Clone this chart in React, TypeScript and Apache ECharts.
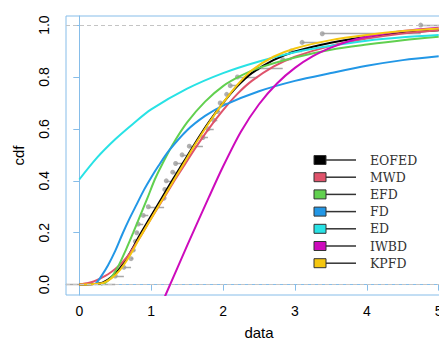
import React, { useEffect, useRef } from "react";
import * as echarts from "echarts";

// ---- data ----
const xTicks = [0, 1, 2, 3, 4, 5];
const yTicks = [0, 0.2, 0.4, 0.6, 0.8, 1.0];

const seriesNames = ["EOFED", "MWD", "EFD", "FD", "ED", "IWBD", "KPFD"];
const seriesColors = ["#000000", "#DF536B", "#61D04F", "#2297E6", "#28E2E5", "#CD0BBC", "#F5C710"];

// empirical CDF jump points (n = 30)
const ecdfX = [0.5, 0.62, 0.72, 0.75, 0.78, 0.8, 0.82, 0.89, 0.96, 1.18, 1.19, 1.21, 1.3, 1.34, 1.43,
  1.53, 1.72, 1.79, 1.87, 1.92, 1.96, 2.05, 2.1, 2.2, 2.48, 2.83, 2.95, 3.1, 3.38, 4.75];

const EOFED = [[0, 0], [0.2, 0.002], [0.33, 0.008], [0.45, 0.03], [0.57, 0.065], [0.7, 0.12], [0.85, 0.195],
  [1.0, 0.265], [1.15, 0.335], [1.3, 0.405], [1.45, 0.472], [1.6, 0.54], [1.8, 0.625], [2.0, 0.7],
  [2.2, 0.765], [2.4, 0.815], [2.7, 0.865], [3.0, 0.898], [3.5, 0.932], [4.0, 0.955], [4.5, 0.97], [5.0, 0.98]];
const MWD = [[0, 0], [0.1, 0.005], [0.2, 0.012], [0.3, 0.025], [0.4, 0.04], [0.5, 0.06], [0.6, 0.086],
  [0.7, 0.12], [0.85, 0.185], [1.0, 0.255], [1.15, 0.322], [1.3, 0.39], [1.45, 0.455], [1.6, 0.52],
  [1.8, 0.6], [2.0, 0.672], [2.2, 0.735], [2.4, 0.785], [2.7, 0.84], [3.0, 0.878], [3.5, 0.92], [4.0, 0.948],
  [4.5, 0.968], [5.0, 0.98]];
const EFD = [[0.3, 0], [0.35, 0.005], [0.45, 0.03], [0.55, 0.075], [0.65, 0.135], [0.75, 0.2], [0.85, 0.268],
  [0.95, 0.335], [1.05, 0.405], [1.15, 0.462], [1.3, 0.54], [1.5, 0.625], [1.75, 0.705], [2.0, 0.765],
  [2.25, 0.805], [2.5, 0.835], [3.0, 0.875], [3.5, 0.905], [4.0, 0.925], [4.5, 0.942], [5.0, 0.955]];
const FD = [[0.22, 0], [0.3, 0.03], [0.4, 0.075], [0.5, 0.13], [0.6, 0.195], [0.7, 0.255], [0.8, 0.31],
  [0.9, 0.365], [1.0, 0.413], [1.1, 0.457], [1.25, 0.517], [1.5, 0.595], [1.75, 0.65], [2.0, 0.69],
  [2.5, 0.745], [3.0, 0.785], [3.5, 0.815], [4.0, 0.843], [4.5, 0.865], [5.0, 0.88]];
const ED = [[0, 0.405], [0.25, 0.49], [0.5, 0.56], [0.75, 0.62], [1.0, 0.675], [1.5, 0.755], [2.0, 0.815],
  [2.5, 0.86], [3.0, 0.895], [3.5, 0.92], [4.0, 0.94], [4.5, 0.953], [5.0, 0.962]];
const IWBD = [[1.15, -0.07], [1.2, -0.04], [1.5, 0.15], [1.8, 0.335], [2.0, 0.455], [2.25, 0.59],
  [2.5, 0.695], [2.75, 0.775], [3.0, 0.835], [3.25, 0.88], [3.5, 0.913], [3.75, 0.938], [4.0, 0.955],
  [4.5, 0.977], [5.0, 0.99]];
const KPFD = [[0, 0], [0.2, 0.002], [0.33, 0.006], [0.45, 0.025], [0.57, 0.058], [0.7, 0.11], [0.85, 0.185],
  [1.0, 0.255], [1.15, 0.325], [1.3, 0.395], [1.45, 0.465], [1.6, 0.535], [1.8, 0.622], [2.0, 0.7],
  [2.2, 0.77], [2.4, 0.826], [2.7, 0.878], [3.0, 0.91], [3.5, 0.942], [4.0, 0.962], [4.5, 0.977], [5.0, 0.987]];

const curves = [EOFED, MWD, EFD, FD, ED, IWBD, KPFD];

const X_MIN = -0.185;
const X_MAX = 5.185;
const Y_MIN = -0.04;
const Y_MAX = 1.035;

export default function App() {
  const ref = useRef<HTMLDivElement>(null);
  useEffect(() => {
    if (!ref.current) return;
    const chart = echarts.init(ref.current, null, { renderer: "svg" });
    const n = ecdfX.length;
    const segs: any[] = [];
    for (let i = -1; i < n; i++) {
      const a = i < 0 ? X_MIN : ecdfX[i];
      const b = i + 1 < n ? ecdfX[i + 1] : X_MAX;
      const lvl = (i + 1) / n;
      segs.push({ coords: [[a, lvl], [b, lvl]] });
    }
    const pts = ecdfX.map((x, i) => [x, (i + 1) / n]);

    const axisColor = "#86bde9";
    const legendGraphics: any[] = [];
    seriesNames.forEach((nm, i) => {
      const cy = 160 + i * 17.2;
      legendGraphics.push({
        type: "line",
        shape: { x1: 326, y1: cy, x2: 356, y2: cy },
        style: { stroke: "#333", lineWidth: 1.5 },
        z: 100,
      });
      legendGraphics.push({
        type: "rect",
        shape: { x: 314, y: cy - 4.5, width: 12, height: 9 },
        style: { fill: seriesColors[i], stroke: "#333", lineWidth: 1 },
        z: 101,
      });
      legendGraphics.push({
        type: "text",
        x: 370,
        y: cy,
        style: {
          text: nm,
          fill: "#333",
          font: "12.5px 'DejaVu Serif'",
          verticalAlign: "middle",
          align: "left",
        },
        z: 101,
      });
    });

    chart.setOption({
      animation: false,
      grid: {
        left: 66,
        right: 0,
        top: 16,
        bottom: 46,
        show: true,
        borderColor: axisColor,
        borderWidth: 1,
        backgroundColor: "transparent",
      },
      xAxis: {
        type: "value",
        min: X_MIN,
        max: X_MAX,
        name: "data",
        nameLocation: "middle",
        nameGap: 30,
        nameTextStyle: { fontSize: 15, color: "#000", fontFamily: "Liberation Sans" },
        axisLine: { show: true, lineStyle: { color: axisColor } },
        axisTick: { show: true, length: 6, lineStyle: { color: axisColor }, customValues: xTicks },
        axisLabel: {
          customValues: xTicks,
          fontSize: 14,
          color: "#000",
          fontFamily: "Liberation Sans",
          margin: 9,
          formatter: (v: number) => String(v),
        },
        splitLine: { show: false },
      },
      yAxis: {
        type: "value",
        min: Y_MIN,
        max: Y_MAX,
        name: "cdf",
        nameLocation: "middle",
        nameGap: 40,
        nameTextStyle: { fontSize: 15, color: "#000", fontFamily: "Liberation Sans" },
        axisLine: { show: true, lineStyle: { color: axisColor } },
        axisTick: { show: true, length: 6, lineStyle: { color: axisColor }, customValues: yTicks },
        axisLabel: {
          customValues: yTicks,
          fontSize: 14,
          color: "#000",
          fontFamily: "Liberation Sans",
          rotate: 90,
          margin: 15,
          formatter: (v: number) => v.toFixed(1),
        },
        splitLine: { show: false },
      },
      graphic: legendGraphics,
      series: [
        {
          type: "lines",
          coordinateSystem: "cartesian2d",
          data: segs,
          lineStyle: { color: "#a8a8a8", width: 1.3, opacity: 1 },
          silent: true,
          markLine: {
            silent: true,
            symbol: "none",
            label: { show: false },
            lineStyle: { color: "#c4c4c4", type: [4, 3], width: 1 },
            data: [{ yAxis: 0 }, { yAxis: 1 }],
          },
        },
        {
          type: "scatter",
          data: pts,
          symbolSize: 5,
          itemStyle: { color: "#9c9c9c" },
          silent: true,
        },
        ...curves.map((c, i) => ({
          type: "line",
          name: seriesNames[i],
          data: c,
          showSymbol: false,
          smooth: 0.3,
          lineStyle: { color: seriesColors[i], width: 2 },
          itemStyle: { color: seriesColors[i] },
          silent: true,
          clip: true,
        })),
      ],
    });
    return () => chart.dispose();
  }, []);
  return (
    <div style={{ position: "absolute", left: 0, top: 0, width: 439, height: 345, overflow: "hidden", background: "#fff" }}>
      <div ref={ref} style={{ width: 452, height: 345 }} />
    </div>
  );
}
